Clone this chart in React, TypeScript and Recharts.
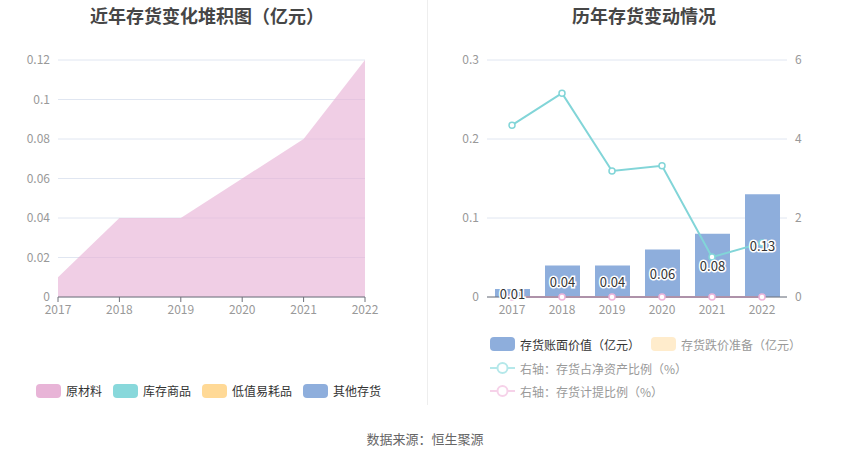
import React from 'react';
import {
  AreaChart, Area, ComposedChart, Bar, Line, XAxis, YAxis, CartesianGrid, LabelList,
} from 'recharts';

const years = ['2017', '2018', '2019', '2020', '2021', '2022'];

// 左图：存货构成（亿元）
const rawMaterial = [0.01, 0.04, 0.04, 0.06, 0.08, 0.12];
const goodsInStock = [0, 0, 0, 0, 0, 0];
const lowValueItems = [0, 0, 0, 0, 0, 0];
const otherInventory = [0, 0, 0, 0, 0, 0];
const leftTicks = [0, 0.02, 0.04, 0.06, 0.08, 0.1, 0.12];

// 右图：存货变动
const bookValue = [0.01, 0.04, 0.04, 0.06, 0.08, 0.13];
const impairment = [0, 0, 0, 0, 0, 0];
const ratioToNetAssets = [4.35, 5.16, 3.19, 3.32, 1.01, 1.37];
const provisionRatio = [0, 0, 0, 0, 0, 0];
const rightLeftTicks = [0, 0.1, 0.2, 0.3];
const rightRightTicks = [0, 2, 4, 6];

const leftData = years.map((y, i) => ({
  year: y,
  raw: rawMaterial[i],
  goods: goodsInStock[i],
  low: lowValueItems[i],
  other: otherInventory[i],
}));

const rightData = years.map((y, i) => ({
  year: y,
  book: bookValue[i],
  imp: impairment[i],
  ratio: ratioToNetAssets[i],
  prov: provisionRatio[i],
}));

const FONT = '"Noto Sans CJK SC", "Noto Sans", sans-serif';
const tickStyle = { fill: '#999', fontSize: 12, fontFamily: FONT };

const Swatch = ({ color }: { color: string }) => (
  <span style={{ display: 'inline-block', width: 25, height: 14, borderRadius: 4, background: color, marginRight: 5 }} />
);

const LineIcon = ({ color }: { color: string }) => (
  <svg width={25} height={14} style={{ marginRight: 5 }}>
    <line x1={0} y1={7} x2={25} y2={7} stroke={color} strokeWidth={2} />
    <circle cx={12.5} cy={7} r={5} fill="#fff" stroke={color} strokeWidth={2} />
  </svg>
);

const BarLabel = (props: any) => {
  const { x, y, width, height, value } = props;
  return (
    <text
      x={x + width / 2}
      y={y + height / 2}
      textAnchor="middle"
      dominantBaseline="central"
      fontSize={13}
      fontFamily={FONT}
      fill="#333"
      stroke="#fff"
      strokeWidth={3}
      style={{ paintOrder: 'stroke' }}
    >
      {value}
    </text>
  );
};

export default function App() {
  return (
    <div style={{ position: 'fixed', left: 0, top: 0, width: 850, height: 459, background: '#fff', fontFamily: FONT }}>
      <div style={{ position: 'absolute', left: 0, top: 2, width: 414, textAlign: 'center', fontSize: 18, fontWeight: 'bold', color: '#464646' }}>
        近年存货变化堆积图（亿元）
      </div>
      <div style={{ position: 'absolute', left: 427, top: 2, width: 434, textAlign: 'center', fontSize: 18, fontWeight: 'bold', color: '#464646' }}>
        历年存货变动情况
      </div>
      <div style={{ position: 'absolute', left: 427, top: 0, width: 1, height: 405, background: '#eeeeee' }} />

      <div style={{ position: 'absolute', left: 0, top: 0 }}>
        <AreaChart width={425} height={340} data={leftData} margin={{ top: 60, right: 60, bottom: 13, left: 0 }}>
          <CartesianGrid vertical={false} stroke="#e0e6f1" />
          <XAxis dataKey="year" height={30} tick={tickStyle} stroke="#6e7079" tickSize={5} tickMargin={3} />
          <YAxis width={58} domain={[0, 0.12]} ticks={leftTicks} axisLine={false} tickLine={false} tick={tickStyle} />
          <Area type="linear" dataKey="raw" stackId="a" stroke="none" fill="#e8b4d7" fillOpacity={0.65} isAnimationActive={false} />
          <Area type="linear" dataKey="goods" stackId="a" stroke="none" fill="#88d8db" fillOpacity={0.65} isAnimationActive={false} />
          <Area type="linear" dataKey="low" stackId="a" stroke="none" fill="#ffd996" fillOpacity={0.65} isAnimationActive={false} />
          <Area type="linear" dataKey="other" stackId="a" stroke="none" fill="#8eaedc" fillOpacity={0.65} isAnimationActive={false} />
        </AreaChart>
      </div>

      <div style={{ position: 'absolute', left: 0, top: 0 }}>
        <ComposedChart width={850} height={340} data={rightData} margin={{ top: 60, right: 0, bottom: 13, left: 427 }}>
          <CartesianGrid vertical={false} stroke="#e0e6f1" yAxisId="left" />
          <XAxis dataKey="year" height={30} tick={tickStyle} stroke="#6e7079" tickLine={false} tickMargin={3} tickSize={5} />
          <YAxis yAxisId="left" width={60} domain={[0, 0.3]} ticks={rightLeftTicks} axisLine={false} tickLine={false} tick={tickStyle} />
          <YAxis yAxisId="right" orientation="right" width={63} domain={[0, 6]} ticks={rightRightTicks} axisLine={false} tickLine={false} tick={tickStyle} />
          <Bar yAxisId="left" dataKey="book" stackId="s" barSize={35} fill="#8eaedc" isAnimationActive={false}>
            <LabelList dataKey="book" content={BarLabel} />
          </Bar>
          <Bar yAxisId="left" dataKey="imp" stackId="s" barSize={35} fill="#ffeccc" isAnimationActive={false} />
          <Line yAxisId="right" type="linear" dataKey="ratio" stroke="#82d5d8" strokeWidth={2}
            dot={{ r: 3, fill: '#fff', stroke: '#82d5d8', strokeWidth: 1.5 }} isAnimationActive={false} />
          <Line yAxisId="right" type="linear" dataKey="prov" stroke="#eeb4da" strokeWidth={2}
            dot={{ r: 3, fill: '#fff', stroke: '#eeb4da', strokeWidth: 1.5 }} isAnimationActive={false} />
        </ComposedChart>
      </div>

      {/* 左图图例 */}
      <div style={{ position: 'absolute', left: 36, top: 382, display: 'flex', alignItems: 'center', fontSize: 12, color: '#333', whiteSpace: 'nowrap' }}>
        <Swatch color="#e8b4d7" /><span style={{ marginRight: 11 }}>原材料</span>
        <Swatch color="#88d8db" /><span style={{ marginRight: 11 }}>库存商品</span>
        <Swatch color="#ffd996" /><span style={{ marginRight: 11 }}>低值易耗品</span>
        <Swatch color="#8eaedc" /><span>其他存货</span>
      </div>

      {/* 右图图例 */}
      <div style={{ position: 'absolute', left: 490, top: 336, fontSize: 12, color: '#999', whiteSpace: 'nowrap' }}>
        <div style={{ display: 'flex', alignItems: 'center', height: 16 }}>
          <Swatch color="#8eaedc" /><span style={{ color: '#333', marginRight: 11 }}>存货账面价值（亿元）</span>
          <Swatch color="#ffeccc" /><span>存货跌价准备（亿元）</span>
        </div>
        <div style={{ display: 'flex', alignItems: 'center', height: 16, marginTop: 8 }}>
          <LineIcon color="#b5e8ea" /><span>右轴：存货占净资产比例（%）</span>
        </div>
        <div style={{ display: 'flex', alignItems: 'center', height: 16, marginTop: 7 }}>
          <LineIcon color="#f6d2e9" /><span>右轴：存货计提比例（%）</span>
        </div>
      </div>

      <div style={{ position: 'absolute', left: 0, top: 429, width: 850, textAlign: 'center', fontSize: 13, color: '#666' }}>
        数据来源：恒生聚源
      </div>
    </div>
  );
}
